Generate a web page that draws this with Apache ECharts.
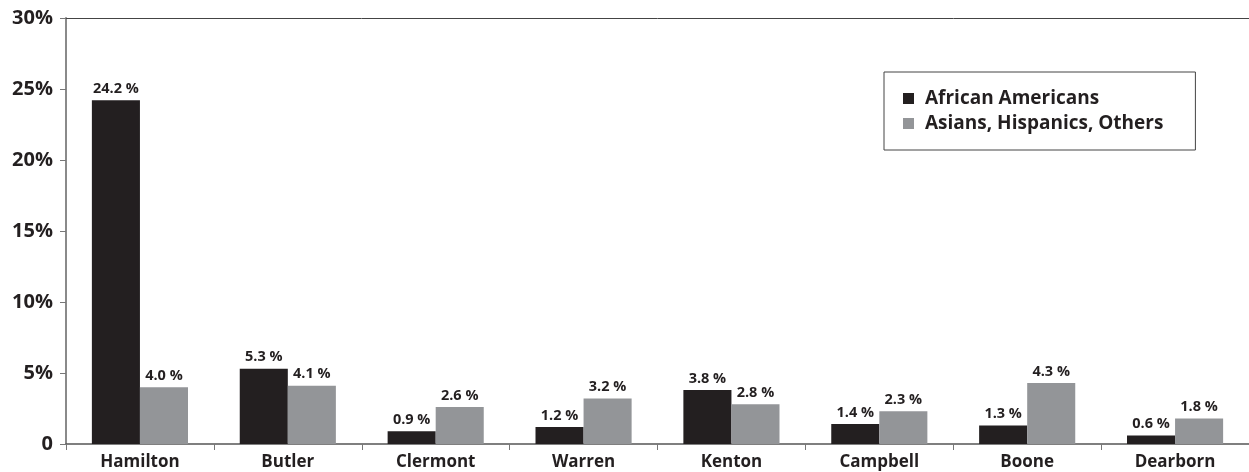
<!DOCTYPE html>
<html>
<head>
<meta charset="utf-8">
<script src="https://cdn.jsdelivr.net/npm/echarts@6/dist/echarts.min.js"></script>
<style>
  html, body { margin: 0; padding: 0; background: #fff; }
  #chart { width: 1249px; height: 472px; }
</style>
</head>
<body>
<div id="chart"></div>
<script>
// Share of population by county
const counties = ['Hamilton', 'Butler', 'Clermont', 'Warren', 'Kenton', 'Campbell', 'Boone', 'Dearborn'];
const africanAmericans = [24.2, 5.3, 0.9, 1.2, 3.8, 1.4, 1.3, 0.6];
const asiansHispanicsOthers = [4.0, 4.1, 2.6, 3.2, 2.8, 2.3, 4.3, 1.8];
const seriesNames = ['African Americans', 'Asians, Hispanics, Others'];
const yTicks = [0, 5, 10, 15, 20, 25, 30];

const FONT = '"Open Sans", "Noto Sans", sans-serif';
const DARK = '#231f20';
const GREY = '#939598';

const chart = echarts.init(document.getElementById('chart'), null, { renderer: 'canvas' });

const valueLabel = {
  show: true,
  position: 'top',
  distance: 4,
  color: DARK,
  fontFamily: FONT,
  fontWeight: 'bold',
  fontSize: 14.5,
  formatter: p => p.value.toFixed(1) + ' %'
};

chart.setOption({
  animation: false,
  textStyle: { fontFamily: FONT },
  grid: { left: 66, right: 0, top: 18, bottom: 28, containLabel: false },
  legend: {
    orient: 'vertical',
    left: 884,
    top: 72,
    padding: [17, 32, 17, 19],
    itemGap: 6,
    itemWidth: 11,
    itemHeight: 11,
    icon: 'rect',
    borderColor: '#444',
    borderWidth: 1,
    textStyle: { fontFamily: FONT, fontWeight: 'bold', fontSize: 19, color: DARK, padding: [0, 0, 0, 6] },
    data: seriesNames
  },
  xAxis: [
    {
      type: 'category',
      data: counties,
      axisLine: { show: true, lineStyle: { color: '#555', width: 1.5 } },
      axisTick: { show: true, length: 6, lineStyle: { color: '#777' } },
      axisLabel: { margin: 10, color: DARK, fontFamily: FONT, fontWeight: 'bold', fontSize: 17 }
    },
    {
      type: 'category',
      position: 'top',
      data: counties,
      axisLine: { show: true, lineStyle: { color: '#444', width: 1 } },
      axisTick: { show: false },
      axisLabel: { show: false }
    }
  ],
  yAxis: {
    type: 'value',
    min: yTicks[0],
    max: yTicks[yTicks.length - 1],
    interval: 5,
    axisLine: { show: true, lineStyle: { color: '#8a8a8a', width: 2 } },
    axisTick: { show: true, length: 6, lineStyle: { color: '#777' } },
    splitLine: { show: false },
    axisLabel: {
      margin: 13,
      color: DARK,
      fontFamily: FONT,
      fontWeight: 'bold',
      fontSize: 20,
      formatter: v => (v === 0 ? '0' : v + '%')
    }
  },
  series: [
    {
      name: seriesNames[0],
      type: 'bar',
      data: africanAmericans,
      barGap: '0%',
      barCategoryGap: '35%',
      itemStyle: { color: DARK },
      label: valueLabel
    },
    {
      name: seriesNames[1],
      type: 'bar',
      data: asiansHispanicsOthers,
      barGap: '0%',
      barCategoryGap: '35%',
      itemStyle: { color: GREY },
      label: valueLabel
    }
  ]
});
</script>
</body>
</html>
